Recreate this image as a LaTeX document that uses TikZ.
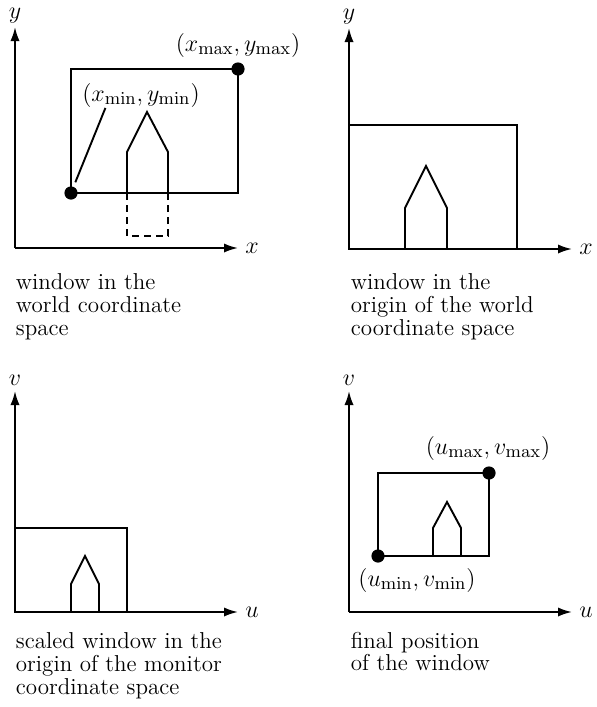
\documentclass[tikz,border=0pt]{standalone}
\usetikzlibrary{positioning,arrows.meta}

\begin{document}
\begin{tikzpicture}[x=0.5pt, y=-0.5pt, >={Latex[length=7pt,width=4.6pt]}, line width=0.95pt,
	font=\fontsize{11.5}{11.3}\selectfont,
	dot/.style={circle, fill, inner sep=0pt, minimum size=6.6pt},
	caption/.style={anchor=north west, align=left, inner sep=0pt},
	corner/.style={inner sep=0pt, font=\fontsize{12.8}{13}\selectfont}]
	\useasboundingbox (0,0) rectangle (596,707);

	% The four coordinate systems: origin x / origin y / horizontal label / vertical label
	\foreach \i/\ox/\oy/\h/\v in {1/15/248/x/y, 2/349/249/x/y, 3/15/612/u/v, 4/349/612/u/v} {
		\coordinate (o\i) at (\ox,\oy);
		\coordinate (h\i) at (\ox+223,\oy);
		\coordinate (v\i) at (\ox,\oy-221);
		\draw[->] (o\i) -- (h\i);
		\draw[->] (o\i) -- (v\i);
		\node[corner] (hl\i) at (\ox+237,\oy) {$\h$};
		\node[corner] (vl\i) at (\ox,\oy-232) {$\v$};
	}

	% Window in the world coordinate space
	\node[dot] (p1min) at (71,193) {};
	\node[dot] (p1max) at (238,69) {};
	\draw (p1min.center) rectangle (p1max.center);
	\draw (127,193) -- (127,152) -- (147,112) -- (168,152) -- (168,193);
	\draw[dash pattern=on 3.5pt off 2.5pt] (127,193) -- (127,236) -- (168,236) -- (168,193);
	\node[corner] (l1max) at (238,45) {$(x_{\max},y_{\max})$};
	\node[corner] (l1min) at (141,95) {$(x_{\min},y_{\min})$};
	\draw[shorten >=2pt] (l1min.200) -- (p1min);
	\node[caption] (c1) at (15,273) {window in the\\world coordinate\\space};

	% Window moved to the origin
	\coordinate (p2min) at (349,249);
	\coordinate (p2max) at (517,125);
	\draw (p2min) rectangle (p2max);
	\draw (405,249) -- (405,208) -- (426,166) -- (447,208) -- (447,249);
	\node[caption] (c2) at (350,273) {window in the\\origin of the world\\coordinate space};

	% Scaled window
	\coordinate (p3min) at (15,612);
	\coordinate (p3max) at (127,528);
	\draw (p3min) rectangle (p3max);
	\draw (71,612) -- (71,584) -- (85,556) -- (99,584) -- (99,612);
	\node[caption] (c3) at (15,632) {scaled window in the\\origin of the monitor\\coordinate space};

	% Final position
	\node[dot] (p4min) at (378,556) {};
	\node[dot] (p4max) at (489,473) {};
	\draw (p4min.center) rectangle (p4max.center);
	\draw (433,556) -- (433,528) -- (447,502) -- (461,528) -- (461,556);
	\node[corner] (l4max) at (488,448) {$(u_{\max},v_{\max})$};
	\node[corner] (l4min) at (417,580) {$(u_{\min},v_{\min})$};
	\node[caption] (c4) at (350,631) {final position\\of the window};
\end{tikzpicture}
\end{document}
